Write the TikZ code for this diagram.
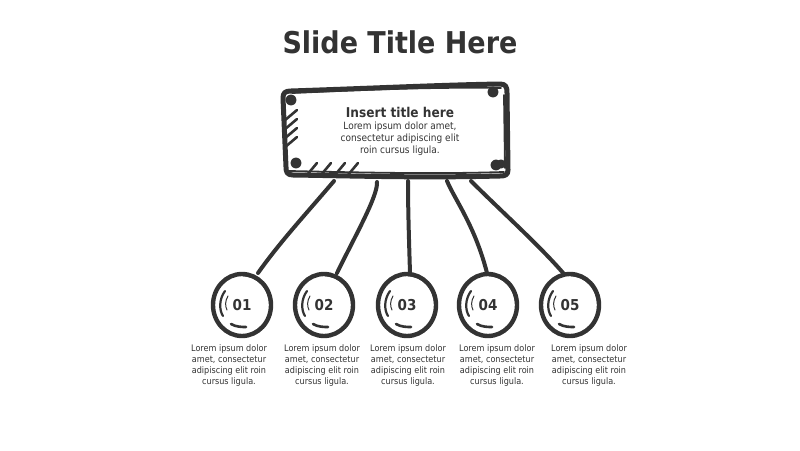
\documentclass[tikz,border=0pt]{standalone}
\usepackage{fontspec}
\setmainfont{DejaVu Sans Condensed}
\definecolor{ink}{HTML}{333333}
\begin{document}
\begin{tikzpicture}[x=1pt,y=-1pt,
  ink/.style={draw=ink,line width=5pt,line cap=round,line join=round},
  thin/.style={draw=ink,line width=1.8pt,line cap=round},
  hatch/.style={draw=ink,line width=2.6pt,line cap=round},
  bubble/.style={circle,minimum size=58pt,inner sep=0pt,font=\bfseries\fontsize{15}{18}\selectfont,text=ink},
  desc/.style={align=center,font=\fontsize{9}{11}\selectfont,text=ink},
  link/.style={draw=ink,line width=4pt,line cap=round}]
\useasboundingbox (0,0) rectangle (800,450);
\node[text=ink,font=\bfseries\fontsize{30}{34}\selectfont] (title) at (400,42) {Slide Title Here};
% box
\node[minimum width=224pt,minimum height=90pt,inner sep=0pt] (box) at (395,130) {};
\draw[ink] (291,91) .. controls (380,88) and (440,85) .. (500,84)
  .. controls (506,84) and (507,87) .. (507,93)
  -- (508,170) .. controls (508,175) and (505,176) .. (500,176)
  .. controls (420,178) and (360,176) .. (293,175)
  .. controls (287,175) and (286,172) .. (286,167)
  -- (283,98) .. controls (283,93) and (285,91) .. (291,91) -- cycle;
\draw[thin] (292,93) .. controls (380,89) and (440,87) .. (501,88);
\draw[thin] (289,171) .. controls (380,173) and (440,174) .. (504,172);
\draw[thin] (504,95) -- (505,168);
\foreach \p in {(291,100),(493,92),(296,163),(496,165)} \fill[ink] \p circle (3pt);
\fill[ink] (501,164) circle (2pt);
\foreach \yy in {110,119,128,137} \draw[hatch] (284,\yy+11) -- (297,\yy);
\foreach \xx in {307,321,335,348} \draw[hatch] (\xx,175) -- (\xx+10,163);
\node[text=ink,font=\bfseries\fontsize{13.5}{15}\selectfont] (bt) at (400,112) {Insert title here};
\node[desc,font=\fontsize{10}{12}\selectfont] (bd) at (400,139) {Lorem ipsum dolor amet,\\consectetur adipiscing elit\\roin cursus ligula.};
% anchor points on box
\coordinate (s1) at (334,181);
\coordinate (s2) at (377,182);
\coordinate (s3) at (408,181);
\coordinate (s4) at (447,181);
\coordinate (s5) at (471,181);
% bubbles
\foreach \i/\x/\tx/\n in {1/242/229/01,2/324/322/02,3/407/408/03,4/488/497/04,5/570/589/05}{
  \node[bubble] (c\i) at (\x,305) {\n};
  \draw[ink,line width=4.4pt] (\x,305) ellipse (29pt and 31pt);
  \draw[thin,line width=1.5pt] (\x+1,275.5) .. controls (\x+20,277) and (\x+30,292) .. (\x+28,316);
  \draw[thin,line width=2.2pt] (\x-17,291) .. controls (\x-23,299) and (\x-23,310) .. (\x-19,316);
  \draw[thin,line width=1pt] (\x-14,296) .. controls (\x-17,301) and (\x-17,306) .. (\x-15,310);
  \draw[thin,line width=2.6pt] (\x-11,324) .. controls (\x-6,327) and (\x,327) .. (\x+4,327);
  \node[desc] (d\i) at (\tx,366) {Lorem ipsum dolor\\amet, consectetur\\adipiscing elit roin\\cursus ligula.};
}
\coordinate (e1) at (258,273);
\coordinate (e2) at (337,273);
\coordinate (e3) at (410,273);
\coordinate (e4) at (487,273);
\coordinate (e5) at (564,274);
\draw[link] (s1) .. controls (305,215) and (280,242) .. (e1);
\draw[link] (s2) .. controls (378,196) and (355,236) .. (e2);
\draw[link] (s3) .. controls (408,210) and (409,240) .. (e3);
\draw[link] (s4) .. controls (455,200) and (475,226) .. (e4);
\draw[link] (s5) .. controls (500,210) and (540,246) .. (e5);
\end{tikzpicture}
\end{document}
